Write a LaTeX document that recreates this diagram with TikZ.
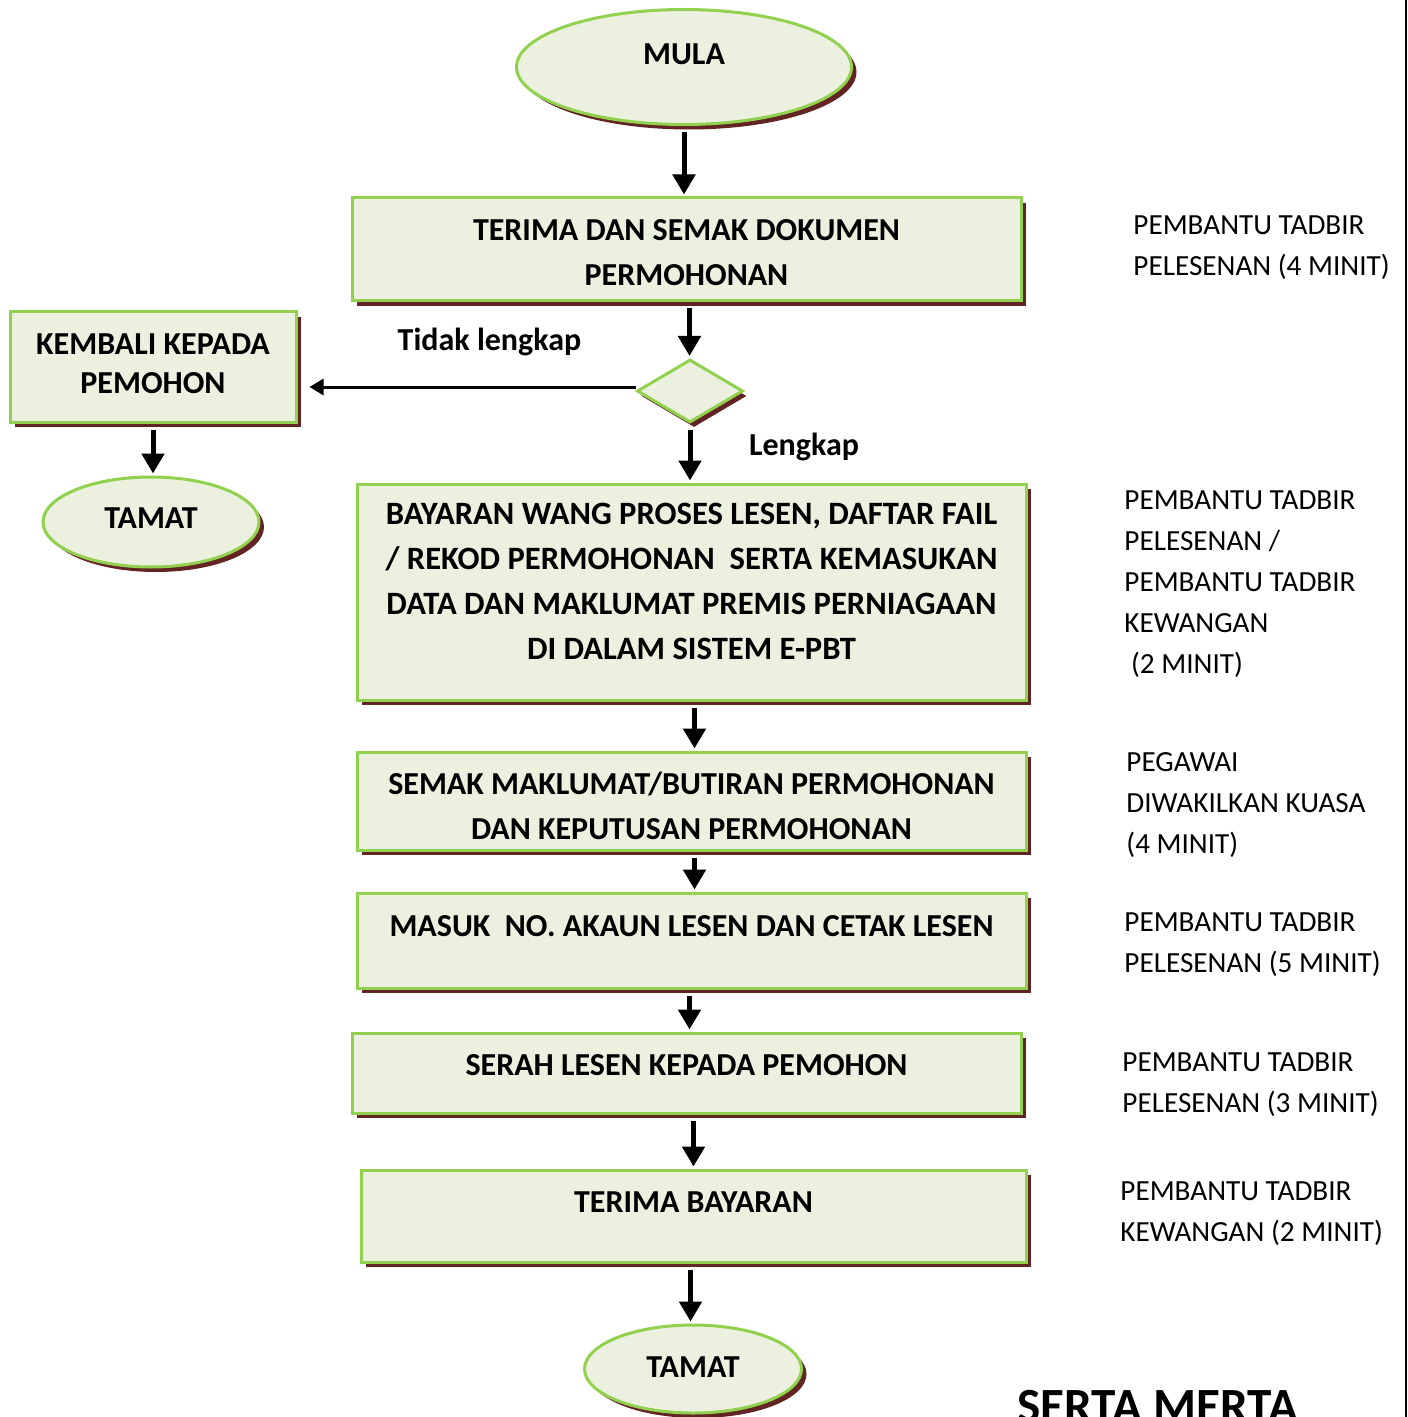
\documentclass[tikz,border=0pt]{standalone}
\usepackage{fontspec}
\setmainfont{Carlito}
\usetikzlibrary{shapes.geometric, arrows.meta, shadows}
\definecolor{boxfill}{HTML}{EBF1DE}
\definecolor{boxline}{HTML}{92D050}
\definecolor{boxshade}{HTML}{632523}
\tikzstyle{startstop} = [ellipse,
					  fill=boxfill,
					  draw=boxline,
					  line width=1.5pt,
					  text height=10.3pt,
					  font=\bfseries\fontsize{16}{22.5}\selectfont,
					  drop shadow={shadow xshift=2.5pt, shadow yshift=-2.5pt, fill=boxshade, opacity=1},
					 ]
\tikzstyle{process} = [rectangle,
					  minimum width=334.5pt,
					  align=center,
					  fill=boxfill,
					  draw=boxline,
					  line width=1.5pt,
					  font=\bfseries\fontsize{16}{22.5}\selectfont,
					  drop shadow={shadow xshift=2.5pt, shadow yshift=-2.5pt, fill=boxshade, opacity=1},
					 ]
\tikzstyle{decision} = [diamond,
					  minimum width=53pt,
					  minimum height=31.5pt,
					  inner sep=0pt,
					  fill=boxfill,
					  draw=boxline,
					  line width=1.5pt,
					  drop shadow={shadow xshift=2pt, shadow yshift=-2.5pt, fill=boxshade, opacity=1},
					 ]
\tikzstyle{officer} = [anchor=north west,
					  align=left,
					  inner sep=0pt,
					  font=\fontsize{14.6}{20.5}\selectfont,
					 ]
\tikzstyle{choice} = [font=\bfseries\fontsize{16}{22.5}\selectfont]
\tikzstyle{arrow} = [line width=2.5pt,-{Triangle[width=11pt,length=10pt]},shorten <=3pt,shorten >=1pt]
\tikzstyle{thinarrow} = [line width=1.5pt,-{Triangle[width=8pt,length=7pt]},shorten >=6pt]
\begin{document}
\begin{tikzpicture}[x=0.5pt, y=-0.5pt]
\useasboundingbox (0,0) rectangle (1407,1417);

\node (mula) [startstop, minimum width=167.5pt, minimum height=57.5pt, text depth=13pt] at (684,67) {MULA};
\node (semakdok) [process, minimum height=51.5pt, text height=35.8pt, text depth=0pt] at (686.5,249.5) {TERIMA DAN SEMAK DOKUMEN\\PERMOHONAN};
\node (dec) [decision] at (690,391) {};
\node (kembali) [process, minimum width=143pt, minimum height=55pt, font=\bfseries\fontsize{16}{19.5}\selectfont, text height=29.8pt, text depth=3.5pt] at (153,367) {KEMBALI KEPADA\\PEMOHON};
\node (tamatkiri) [startstop, minimum width=108pt, minimum height=45pt, text depth=4pt] at (151,522) {TAMAT};
\node (bayaran) [process, minimum height=108pt, font=\bfseries\fontsize{16.3}{22.5}\selectfont, text height=77.8pt, text depth=10pt] at (691.5,592) {BAYARAN WANG PROSES LESEN, DAFTAR FAIL\\/ REKOD PERMOHONAN\ \ SERTA KEMASUKAN\\DATA DAN MAKLUMAT PREMIS PERNIAGAAN\\DI DALAM SISTEM E-PBT};
\node (semakmak) [process, minimum height=49pt, text height=38.8pt, text depth=0pt] at (691.5,801) {SEMAK MAKLUMAT/BUTIRAN PERMOHONAN\\DAN KEPUTUSAN PERMOHONAN};
\node (masuk) [process, minimum height=47.5pt, text height=10.3pt, text depth=14.5pt] at (691.5,940.5) {MASUK\ \ NO. AKAUN LESEN DAN CETAK LESEN};
\node (serah) [process, minimum height=40pt, text height=10.3pt, text depth=8pt] at (686.5,1073) {SERAH LESEN KEPADA PEMOHON};
\node (terimabayar) [process, minimum width=332.5pt, minimum height=46pt, text height=10.3pt, text depth=14pt] at (693.5,1216) {TERIMA BAYARAN};
\node (tamat) [startstop, minimum width=108.5pt, minimum height=44pt, text depth=2pt] at (693,1369) {TAMAT};

\node (pt1) [officer] at (1133,215.5) {PEMBANTU TADBIR\\PELESENAN (4 MINIT)};
\node (pt2) [officer] at (1124,490.5) {PEMBANTU TADBIR\\PELESENAN /\\PEMBANTU TADBIR\\KEWANGAN\\\hspace*{0.23em}(2 MINIT)};
\node (pt3) [officer] at (1126,752.5) {PEGAWAI\\DIWAKILKAN KUASA\\(4 MINIT)};
\node (pt4) [officer] at (1124,912.5) {PEMBANTU TADBIR\\PELESENAN (5 MINIT)};
\node (pt5) [officer] at (1122,1052.5) {PEMBANTU TADBIR\\PELESENAN (3 MINIT)};
\node (pt6) [officer] at (1120,1181.5) {PEMBANTU TADBIR\\KEWANGAN (2 MINIT)};
\node (serta) [anchor=base west, inner sep=0pt, font=\bfseries\fontsize{24.6}{28}\selectfont] at (1017,1422.6) {SERTA MERTA};

\draw [arrow] (mula) -- (mula |- semakdok.north);
\draw [arrow] ([xshift=1.5pt]semakdok.south) -- ([xshift=1.5pt]semakdok.south |- dec.north);
\draw [thinarrow] ([yshift=2pt]dec.west) -- ([yshift=2pt]dec.west -| kembali.east) node [choice, pos=0.432, yshift=22.5pt] {Tidak lengkap};
\draw [arrow] (dec) -- (dec |- bayaran.north) node [choice, pos=0.39, xshift=57pt] {Lengkap};
\draw [arrow] (kembali) -- (kembali |- tamatkiri.north);
\draw [arrow] ([xshift=1.5pt]bayaran.south) -- ([xshift=1.5pt]bayaran.south |- semakmak.north);
\draw [arrow] ([xshift=1.5pt]semakmak.south) -- ([xshift=1.5pt]semakmak.south |- masuk.north);
\draw [arrow] ([xshift=-1pt]masuk.south) -- ([xshift=-1pt]masuk.south |- serah.north);
\draw [arrow] ([xshift=3.5pt]serah.south) -- ([xshift=3.5pt]serah.south |- terimabayar.north);
\draw [arrow] ([xshift=-1.5pt]terimabayar.south) -- ([xshift=-1.5pt]terimabayar.south |- tamat.north);
\draw [line width=1pt] (1406,0) -- (1406,1417);

\end{tikzpicture}
\end{document}
